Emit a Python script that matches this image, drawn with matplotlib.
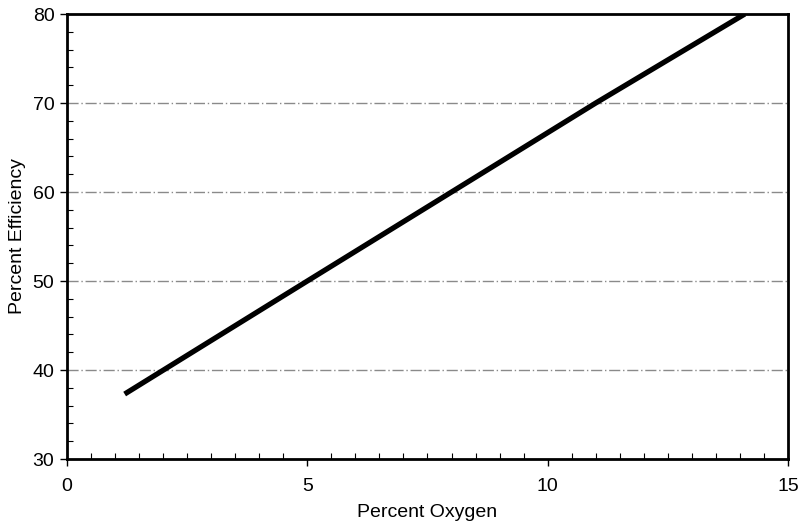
import numpy as np
import matplotlib.pyplot as plt
from matplotlib.ticker import MultipleLocator

plt.rcParams['font.family'] = ['Liberation Sans', 'DejaVu Sans']

oxygen = [1.2, 5, 8, 11, 14.1]
efficiency = [37.3, 50, 60, 70, 80]

fig = plt.figure(figsize=(8.01, 5.27), dpi=100)
ax = fig.add_axes([0.0836, 0.129, 0.9002, 0.8444])

ax.plot(oxygen, efficiency, color='black', linewidth=3.8, solid_capstyle='butt', zorder=3)

ax.set_xlim(0, 15)
ax.set_ylim(30, 80)
ax.xaxis.set_major_locator(MultipleLocator(5))
ax.xaxis.set_minor_locator(MultipleLocator(0.5))
ax.yaxis.set_major_locator(MultipleLocator(10))
ax.yaxis.set_minor_locator(MultipleLocator(2))

ax.tick_params(axis='both', which='major', direction='out', length=5, width=1, labelsize=14)
ax.tick_params(axis='x', which='major', pad=9)
ax.tick_params(axis='y', which='major', pad=4)
ax.tick_params(axis='both', which='minor', direction='in', length=4, width=0.8)

for y in [40, 50, 60, 70]:
    ax.axhline(y, color='#8a8a8a', linewidth=1, linestyle=(0, (8, 2, 1, 2)), zorder=1)

for s in ax.spines.values():
    s.set_linewidth(2)

ax.set_xlabel('Percent Oxygen', fontsize=14, labelpad=6)
ax.set_ylabel('Percent Efficiency', fontsize=14, labelpad=5)

fig.savefig('out.png', dpi=100)
